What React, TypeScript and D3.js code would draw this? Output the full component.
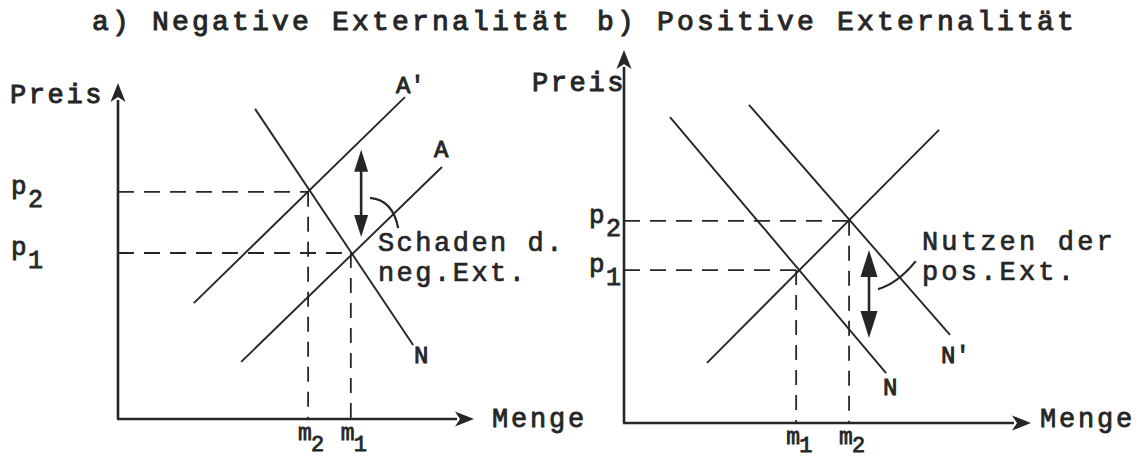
import React from 'react';
import * as d3 from 'd3';

const titles = ['a) Negative Externalität', 'b) Positive Externalität'];
const yAxisName = 'Preis';
const xAxisName = 'Menge';

// a) negative externality (both axes in 0..10 units)
const negCurveNames = ["A'", 'A', 'N'];
const negCurveFrom = [[2.13, 3.45], [3.46, 1.7], [3.85, 9.23]];
const negCurveTo = [[8.06, 9.58], [9.1, 7.5], [8.29, 2.2]];
const negSubs = ['2', '1'];
const negPrices = [6.76, 4.94];
const negQtys = [5.34, 6.54];
const negArrow = [6.83, 5.42, 8.01]; // x, low, high
const negLeader = [[7.08, 6.58], [7.72, 6.52], [7.87, 5.68]];
const negNote = ['Schaden d.', 'neg.Ext.'];
const negNoteAt = [7.3, 5.0];

// b) positive externality
const posCurveNames = ['', 'N', "N'"];
const posCurveFrom = [[2.04, 1.61], [1.13, 8.2], [3.07, 8.53]];
const posCurveTo = [[7.74, 7.86], [6.44, 1.34], [8.01, 2.36]];
const posSubs = ['2', '1'];
const posPrices = [5.42, 4.1];
const posQtys = [5.53, 4.23];
const posArrow = [6.02, 2.28, 4.64];
const posLeader = [[6.24, 3.59], [6.71, 3.73], [7.17, 4.34]];
const posNote = ['Nutzen der', 'pos.Ext.'];
const posNoteAt = [7.32, 4.64];

const ink = '#262626';
const font = "'Liberation Mono', 'DejaVu Sans Mono', monospace";

const panels = [
  {
    data: {
      names: negCurveNames, from: negCurveFrom, to: negCurveTo, subs: negSubs,
      prices: negPrices, qtys: negQtys, arrow: negArrow, leader: negLeader,
      note: negNote, noteAt: negNoteAt,
    },
    lay: {
      x: [118, 474], y: [419, 83], titleX: 92,
      preis: [104, 103], menge: [492, 427], tickX: 11,
      nameOff: [[-9, -4], [-8, -10], [1, 18]],
      head: [15, 19], arrowHead: [14, 22], noteLs: 2.5, subY: 32,
    },
  },
  {
    data: {
      names: posCurveNames, from: posCurveFrom, to: posCurveTo, subs: posSubs,
      prices: posPrices, qtys: posQtys, arrow: posArrow, leader: posLeader,
      note: posNote, noteAt: posNoteAt,
    },
    lay: {
      x: [624, 1031], y: [423, 50], titleX: 597,
      preis: [626, 91], menge: [1040, 427], tickX: 589,
      nameOff: [[0, 0], [-3, 22], [-9, 28]],
      head: [15, 19], arrowHead: [17, 27], noteLs: 3.2, subY: 29,
    },
  },
];

function Panel({ data, lay, title }: any) {
  const x = d3.scaleLinear().domain([0, 10]).range(lay.x);
  const y = d3.scaleLinear().domain([0, 10]).range(lay.y);
  const line = d3.line<number[]>().x(d => x(d[0])).y(d => y(d[1]));
  const leader = d3.path();
  leader.moveTo(x(data.leader[0][0]), y(data.leader[0][1]));
  leader.quadraticCurveTo(x(data.leader[1][0]), y(data.leader[1][1]), x(data.leader[2][0]), y(data.leader[2][1]));

  const x0 = x(0), y0 = y(0), xEnd = x(10), yEnd = y(10);
  const [hw, hl] = lay.head;
  const [aw, al] = lay.arrowHead;
  const ax = x(data.arrow[0]), aLow = y(data.arrow[1]), aHigh = y(data.arrow[2]);
  const txt = { fill: ink, stroke: ink };

  return (
    <g>
      <text x={lay.titleX} y={30} fontSize={28} letterSpacing={3.2} {...txt} strokeWidth={1}>{title}</text>

      {/* axes */}
      <line x1={x0} y1={y0} x2={x0} y2={yEnd + hl - 2} stroke={ink} strokeWidth={2.6} />
      <line x1={x0 - 1} y1={y0} x2={xEnd - hl + 2} y2={y0} stroke={ink} strokeWidth={2.6} />
      <path d={`M${x0},${yEnd} L${x0 - hw / 2},${yEnd + hl} L${x0},${yEnd + hl - 5} L${x0 + hw / 2},${yEnd + hl} Z`} fill={ink} />
      <path d={`M${xEnd},${y0} L${xEnd - hl},${y0 - hw / 2} L${xEnd - hl + 5},${y0} L${xEnd - hl},${y0 + hw / 2} Z`} fill={ink} />
      <text x={lay.preis[0]} y={lay.preis[1]} textAnchor="end" fontSize={27} letterSpacing={2.6} {...txt} strokeWidth={1}>{yAxisName}</text>
      <text x={lay.menge[0]} y={lay.menge[1]} fontSize={27} letterSpacing={2.8} {...txt} strokeWidth={0.8}>{xAxisName}</text>

      {/* dashed guides */}
      {data.prices.map((p: number, i: number) => (
        <g key={'g' + i}>
          <line x1={x0} y1={y(p)} x2={x(data.qtys[i])} y2={y(p)} stroke={ink} strokeWidth={1.8} strokeDasharray="16 10" />
          <line x1={x(data.qtys[i])} y1={y(p)} x2={x(data.qtys[i])} y2={y0} stroke={ink} strokeWidth={1.8} strokeDasharray="15 10" />
          <text x={lay.tickX} y={y(p) + 2} fontSize={26} {...txt} strokeWidth={0.8}>p</text>
          <text x={lay.tickX + 17} y={y(p) + 15} fontSize={25} {...txt} strokeWidth={0.8}>{data.subs[i]}</text>
          <text x={x(data.qtys[i]) - 10} y={y0 + 21} fontSize={23} {...txt} strokeWidth={0.8}>m</text>
          <text x={x(data.qtys[i]) + 3} y={y0 + lay.subY} fontSize={22} {...txt} strokeWidth={0.8}>{data.subs[i]}</text>
        </g>
      ))}

      {/* curves */}
      {data.names.map((n: string, i: number) => {
        const to = data.to[i];
        return (
          <g key={'c' + i}>
            <path d={line([data.from[i], to]) || ''} stroke={ink} strokeWidth={1.9} fill="none" />
            {n && (
              <text x={x(to[0]) + lay.nameOff[i][0]} y={y(to[1]) + lay.nameOff[i][1]} fontSize={24} {...txt} strokeWidth={0.9}>{n}</text>
            )}
          </g>
        );
      })}

      {/* double arrow and leader */}
      <line x1={ax} y1={aHigh + al - 2} x2={ax} y2={aLow - al + 2} stroke={ink} strokeWidth={2.6} />
      <path d={`M${ax},${aHigh} L${ax - aw / 2},${aHigh + al} L${ax + aw / 2},${aHigh + al} Z`} fill={ink} />
      <path d={`M${ax},${aLow} L${ax - aw / 2},${aLow - al} L${ax + aw / 2},${aLow - al} Z`} fill={ink} />
      <path d={leader.toString()} stroke={ink} strokeWidth={2.2} fill="none" />
      {data.note.map((t: string, i: number) => (
        <text key={'n' + i} x={x(data.noteAt[0])} y={y(data.noteAt[1]) + i * 30} fontSize={27} letterSpacing={lay.noteLs} {...txt} strokeWidth={0.7}>{t}</text>
      ))}
    </g>
  );
}

export default function App() {
  return (
    <svg width={1139} height={459} style={{ position: 'absolute', left: 0, top: 0, background: '#fff' }} fontFamily={font}>
      {panels.map((p, i) => (
        <Panel key={i} data={p.data} lay={p.lay} title={titles[i]} />
      ))}
    </svg>
  );
}
